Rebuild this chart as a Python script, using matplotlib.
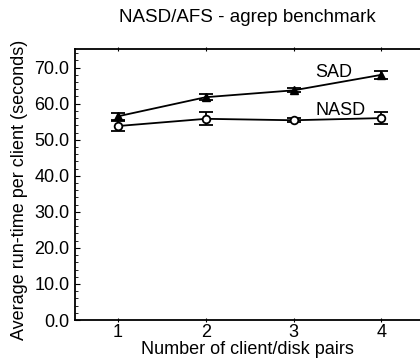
import matplotlib
matplotlib.use("Agg")
import matplotlib.pyplot as plt
from matplotlib.ticker import MultipleLocator, FormatStrFormatter

plt.rcParams["font.family"] = ["Liberation Sans", "DejaVu Sans"]

pairs = [1, 2, 3, 4]
sad = [56.5, 61.8, 63.7, 68.0]
sad_err = [1.0, 0.9, 0.6, 1.2]
nasd = [53.8, 55.8, 55.4, 56.0]
nasd_err = [1.4, 1.8, 0.6, 1.6]

fig = plt.figure(figsize=(4.2, 3.62), dpi=100)
ax = fig.add_axes([0.1786, 0.116, 0.8214, 0.749])

ax.errorbar(pairs, sad, yerr=sad_err, color="black", lw=1.3, marker="^",
            ms=5.5, capsize=5, elinewidth=1.3, capthick=1.3)
ax.errorbar(pairs, nasd, yerr=nasd_err, color="black", lw=1.3, marker="o",
            ms=5.5, mfc="white", mew=1.3, capsize=5, elinewidth=1.3, capthick=1.3)

ax.text(3.25, 67.3, "SAD", fontsize=13, ha="left", va="baseline")
ax.text(3.25, 56.8, "NASD", fontsize=13, ha="left", va="baseline")

ax.set_xlim(0.51, 4.44)
ax.set_ylim(0, 75.2)
ax.set_xticks(pairs)
ax.yaxis.set_major_locator(MultipleLocator(10))
ax.yaxis.set_minor_locator(MultipleLocator(2))
ax.yaxis.set_major_formatter(FormatStrFormatter("%.1f"))
ax.tick_params(axis="y", which="both", direction="in", labelsize=13, pad=4)
ax.tick_params(axis="x", which="both", direction="inout", top=True, labelsize=13, pad=1)
ax.spines["right"].set_visible(False)
for s in ["left", "bottom", "top"]:
    ax.spines[s].set_linewidth(1.3)

ax.set_title("NASD/AFS - agrep benchmark", fontsize=13.5, pad=19)
ax.set_xlabel("Number of client/disk pairs", fontsize=13, labelpad=0)
ax.set_ylabel("Average run-time per client (seconds)", fontsize=13)
ax.yaxis.set_label_coords(-0.136, 0.48)

fig.savefig("out.png", dpi=100)
